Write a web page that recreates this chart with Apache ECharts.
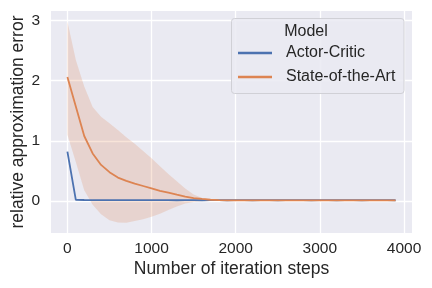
<!DOCTYPE html>
<html>
<head>
<meta charset="utf-8">
<script src="https://cdn.jsdelivr.net/npm/echarts@6/dist/echarts.min.js"></script>
<style>
html,body{margin:0;padding:0;background:#fff;}
#chart{width:432px;height:288px;}
</style>
</head>
<body>
<div id="chart"></div>
<script>
const steps = [0,100,200,300,400,500,600,700,800,900,1000,1100,1200,1300,1400,1500,1600,1700,1800,1900,2000,2100,2200,2300,2400,2500,2600,2700,2800,2900,3000,3100,3200,3300,3400,3500,3600,3700,3800,3900];
const actorCritic = [0.82,0.02,0.018,0.017,0.017,0.016,0.016,0.016,0.015,0.015,0.015,0.015,0.015,0.014,0.015,0.015,0.014,0.015,0.015,0.014,0.015,0.015,0.014,0.015,0.015,0.014,0.015,0.015,0.015,0.014,0.015,0.015,0.014,0.015,0.015,0.014,0.015,0.015,0.015,0.014];
const stateOfTheArt = [2.06,1.57,1.08,0.79,0.60,0.48,0.39,0.335,0.29,0.25,0.21,0.17,0.14,0.105,0.075,0.05,0.035,0.022,0.016,0.013,0.012,0.011,0.012,0.011,0.012,0.012,0.011,0.012,0.011,0.012,0.012,0.011,0.012,0.012,0.011,0.012,0.012,0.011,0.012,0.012];
const sotaLower = [1.10,0.65,0.18,-0.06,-0.22,-0.32,-0.355,-0.36,-0.33,-0.30,-0.26,-0.21,-0.15,-0.09,-0.04,-0.015,-0.004,0.002,0.006,0.007,0.007,0.007,0.008,0.007,0.008,0.007,0.007,0.008,0.007,0.008,0.007,0.007,0.008,0.007,0.008,0.007,0.007,0.008,0.007,0.008];
const sotaUpper = [2.98,2.34,1.90,1.56,1.40,1.29,1.18,1.06,0.95,0.83,0.71,0.58,0.45,0.33,0.21,0.11,0.05,0.028,0.02,0.018,0.017,0.016,0.017,0.016,0.017,0.017,0.016,0.017,0.016,0.017,0.017,0.016,0.017,0.017,0.016,0.017,0.017,0.016,0.017,0.017];
const xTicks = [0,1000,2000,3000,4000];
const yTicks = [0,1,2,3];
const seriesNames = ['Actor-Critic','State-of-the-Art'];
const legendTitle = 'Model';

const blue = '#4C72B0', orange = '#DD8452';
const font = '"Liberation Sans", Arial, sans-serif';
const txt = '#262626';

const pairs = arr => steps.map((s,i)=>[s,arr[i]]);
const bandData = steps.map((s,i)=>[s, sotaLower[i], sotaUpper[i]]);

const chart = echarts.init(document.getElementById('chart'), null, {renderer:'canvas'});
chart.setOption({
  backgroundColor:'#ffffff',
  animation:false,
  grid:{left:51,right:20,top:11,bottom:55,show:true,backgroundColor:'#EAEAF2',borderWidth:0,
        containLabel:false,outerBoundsMode:'none'},
  xAxis:{
    type:'value',min:-195,max:4095,
    name:'Number of iteration steps',nameLocation:'middle',nameGap:27,nameMoveOverlap:false,
    nameTextStyle:{fontFamily:font,fontSize:17.5,color:txt},
    axisLine:{show:false},
    axisTick:{show:false,customValues:xTicks},
    axisLabel:{customValues:xTicks,formatter:v=>String(v),fontFamily:font,fontSize:15.5,color:txt,margin:8},
    splitLine:{show:true,lineStyle:{color:'#ffffff',width:1.3}}
  },
  yAxis:{
    type:'value',min:-0.53,max:3.155,
    name:'relative approximation error',nameLocation:'middle',nameGap:24,nameMoveOverlap:false,
    nameTextStyle:{fontFamily:font,fontSize:17.5,color:txt},
    axisLine:{show:false},
    axisTick:{show:false,customValues:yTicks},
    axisLabel:{customValues:yTicks,formatter:v=>String(v),fontFamily:font,fontSize:15.5,color:txt,margin:11},
    splitLine:{show:true,lineStyle:{color:'#ffffff',width:1.3}}
  },
  legend:{
    orient:'vertical',left:238,top:44,padding:0,itemGap:6,
    itemWidth:34,itemHeight:2.5,icon:'rect',
    textStyle:{fontFamily:font,fontSize:16,color:txt,lineHeight:18,padding:[0,0,0,9]},
    data:[{name:seriesNames[0],itemStyle:{color:blue}},{name:seriesNames[1],itemStyle:{color:orange}}],
    z:10
  },
  graphic:[
    {type:'rect',z:5,shape:{x:231.5,y:18.5,width:172.5,height:75,r:3},
     style:{fill:'rgba(234,234,242,0.85)',stroke:'#d0d0d6',lineWidth:1}},
    {type:'text',z:10,x:306,y:32,style:{text:legendTitle,font:'16px '+font,fill:txt,align:'center',verticalAlign:'middle'}}
  ],
  series:[
    {name:'band',type:'custom',data:bandData,silent:true,z:1,
     encode:{x:0,y:[1,2]},
     renderItem:function(params, api){
       if (params.dataIndex !== 0) return null;
       const top = bandData.map(d=>api.coord([d[0],d[2]]));
       const bot = bandData.map(d=>api.coord([d[0],d[1]])).reverse();
       return {type:'polygon',shape:{points:top.concat(bot)},
               style:{fill:'rgba(221,132,82,0.22)',stroke:'none'}};
     }},
    {name:seriesNames[0],type:'line',data:pairs(actorCritic),symbol:'none',
     lineStyle:{color:blue,width:1.8},itemStyle:{color:blue},z:3},
    {name:seriesNames[1],type:'line',data:pairs(stateOfTheArt),symbol:'none',
     lineStyle:{color:orange,width:1.8},itemStyle:{color:orange},z:4}
  ]
});
</script>
</body>
</html>
